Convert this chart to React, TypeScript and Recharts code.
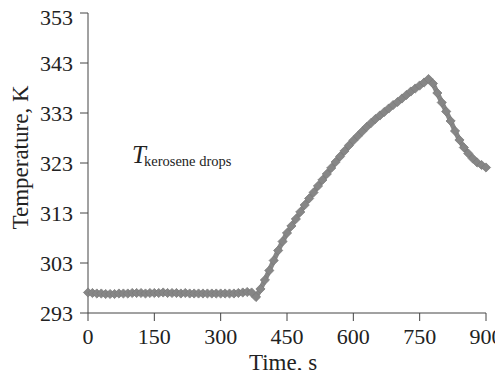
import { LineChart, Line, XAxis, YAxis, Customized } from "recharts";

// time, s
const times = [
  0, 10, 20, 30, 40, 50, 60, 70, 80, 90,
  100, 110, 120, 130, 140, 150, 160, 170, 180, 190,
  200, 210, 220, 230, 240, 250, 260, 270, 280, 290,
  300, 310, 320, 330, 340, 350, 360, 370, 380, 390,
  400, 410, 420, 430, 440, 450, 460, 470, 480, 490,
  500, 510, 520, 530, 540, 550, 560, 570, 580, 590,
  600, 610, 620, 630, 640, 650, 660, 670, 680, 690,
  700, 710, 720, 730, 740, 750, 760, 770, 780, 790,
  800, 810, 820, 830, 840, 850, 860, 870, 880, 890,
  900,
];

// temperature of kerosene drops, K
const temps = [
  297.1, 297.0, 296.9, 296.9, 296.8, 296.8, 296.8, 296.9, 296.9, 296.9,
  297.0, 297.0, 297.0, 296.9, 297.0, 297.0, 297.0, 297.1, 297.0, 297.0,
  297.0, 296.9, 297.0, 296.9, 296.9, 296.9, 296.9, 296.9, 296.9, 296.9,
  296.9, 296.9, 296.9, 296.9, 297.0, 297.1, 297.2, 297.1, 296.2, 297.8,
  299.6, 301.5, 303.5, 305.5, 307.3, 309.0, 310.4, 311.8, 313.2, 314.6,
  315.9, 317.1, 318.4, 319.6, 320.8, 322.0, 323.2, 324.3, 325.4, 326.5,
  327.5, 328.4, 329.3, 330.2, 331.0, 331.8, 332.5, 333.2, 333.9, 334.6,
  335.2, 335.9, 336.6, 337.3, 337.9, 338.5, 339.1, 339.8, 338.9, 337.0,
  335.1, 333.3, 331.4, 329.4, 327.6, 326.1, 324.9, 323.9, 323.1, 322.6,
  322.1,
];

const xTicks = [0, 150, 300, 450, 600, 750, 900];
const yTicks = [293, 303, 313, 323, 333, 343, 353];

const data = times.map((t, i) => ({ t, temp: temps[i] }));

const serif = { fontFamily: "'Liberation Serif'" };

function Diamond(props: any) {
  const { cx, cy } = props;
  if (cx == null || cy == null) return null;
  const r = 4.6;
  return (
    <polygon
      points={`${cx},${cy - r} ${cx + r},${cy} ${cx},${cy + r} ${cx - r},${cy}`}
      fill="#868686"
      stroke="#7c7c7c"
      strokeWidth={0.8}
    />
  );
}

function XTick(props: any) {
  const { x, y, payload } = props;
  return (
    <text x={x} y={y} dy="0.71em" textAnchor="middle" fontSize={22} fill="#222" style={serif}>
      {payload.value}
    </text>
  );
}

function YTick(props: any) {
  const { x, y, payload } = props;
  return (
    <text x={x} y={y} dy="0.355em" textAnchor="end" fontSize={22} fill="#222" style={serif}>
      {payload.value}
    </text>
  );
}

function Labels() {
  return (
    <g fill="#222">
      <text x={12} y={149.5} fontSize={23} style={serif} textAnchor="middle" dominantBaseline="central" transform="rotate(-90 12 149.5)">
        Temperature, K
      </text>
      <text x={275} y={362} fontSize={23} style={serif} textAnchor="middle">
        Time, s
      </text>
      <text x={124} y={155} fontSize={25} style={{ ...serif, fontStyle: "italic" }}>T</text>
      <text x={136} y={158} fontSize={14.5} style={serif}>kerosene drops</text>
    </g>
  );
}

export default function App() {
  return (
    <div style={{ width: 495, height: 370, marginBottom: -8 }}>
      <LineChart
        width={495}
        height={370}
        data={data}
        margin={{ top: 5, right: 17, bottom: 0, left: 0 }}
        style={{ overflow: "visible" }}
      >
        <XAxis
          dataKey="t"
          type="number"
          domain={[0, 900]}
          ticks={xTicks}
          height={65}
          tickSize={8}
          tickMargin={7}
          stroke="#444"
          tick={<XTick />}
        />
        <YAxis
          type="number"
          domain={[293, 353]}
          ticks={yTicks}
          width={80}
          tickSize={8}
          tickMargin={7}
          stroke="#444"
          tick={<YTick />}
        />
        <Line
          dataKey="temp"
          stroke="#868686"
          strokeWidth={5}
          dot={<Diamond />}
          isAnimationActive={false}
        />
        <Customized component={Labels} />
      </LineChart>
    </div>
  );
}
